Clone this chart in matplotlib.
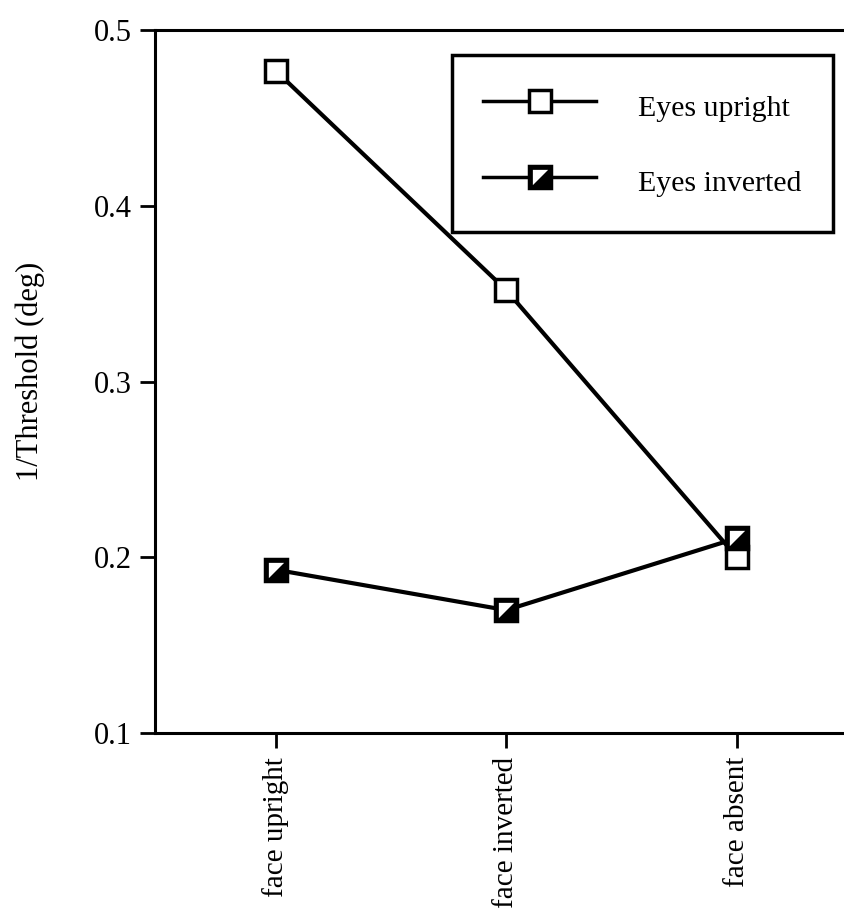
import matplotlib.pyplot as plt
import numpy as np
from matplotlib.path import Path
from matplotlib.lines import Line2D
from matplotlib.legend_handler import HandlerTuple

conditions = ['face upright', 'face inverted', 'face absent']
eyes_upright = [0.477, 0.352, 0.200]
eyes_inverted = [0.193, 0.170, 0.211]

plt.rcParams['font.family'] = ['Liberation Serif', 'DejaVu Serif']

# white upper-left half of the half-filled square
corner = Path([(-1, 1), (1, 1), (-1, -1), (-1, 1)],
              [Path.MOVETO, Path.LINETO, Path.LINETO, Path.CLOSEPOLY])

x = np.arange(len(conditions))

fig = plt.figure(figsize=(8.45, 9.13), dpi=100)
ax = fig.add_axes([0.184, 0.197, 0.814, 0.770])

ax.plot(x, eyes_upright, color='black', lw=3, marker='s', ms=16,
        mfc='white', mec='black', mew=2.5, zorder=3)
ax.plot(x, eyes_inverted, color='black', lw=3, marker='s', ms=16,
        mfc='black', mec='black', mew=2.5, zorder=4)
ax.plot(x, eyes_inverted, ls='none', marker=corner, ms=11,
        mfc='white', mew=0, zorder=5)

ax.set_xlim(-0.52, 2.46)
ax.set_ylim(0.1, 0.5)
ax.set_yticks([0.1, 0.2, 0.3, 0.4, 0.5])
ax.set_yticklabels(['0.1', '0.2', '0.3', '0.4', '0.5'], fontsize=22)
ax.set_xticks(x)
ax.set_xticklabels(conditions, rotation=90, fontsize=21)
ax.tick_params(axis='both', direction='out', length=11, width=2, pad=6)
ax.set_ylabel('1/Threshold (deg)', fontsize=22)
ax.yaxis.set_label_coords(-0.16, 0.515)

for side in ['left', 'bottom', 'top']:
    ax.spines[side].set_linewidth(2.2)
ax.spines['right'].set_visible(False)

h_up = Line2D([], [], color='black', lw=2.5, marker='s', ms=16,
              mfc='white', mec='black', mew=2.5)
h_inv = Line2D([], [], color='black', lw=2.5, marker='s', ms=16,
               mfc='black', mec='black', mew=2.5)
h_corner = Line2D([], [], ls='none', marker=corner, ms=11, mfc='white', mew=0)

leg = ax.legend([h_up, (h_inv, h_corner)], ['Eyes upright', 'Eyes inverted'],
                handler_map={tuple: HandlerTuple(ndivide=1, pad=0)},
                loc='upper right', bbox_to_anchor=(0.985, 0.964),
                fontsize=21.5, frameon=True, fancybox=False,
                handlelength=3.8, handleheight=1.6, handletextpad=1.4,
                labelspacing=1.25, borderpad=1.05, borderaxespad=0)
leg.get_frame().set_edgecolor('black')
leg.get_frame().set_linewidth(2.5)
leg.get_frame().set_alpha(1)

fig.savefig('out.png', dpi=100)
